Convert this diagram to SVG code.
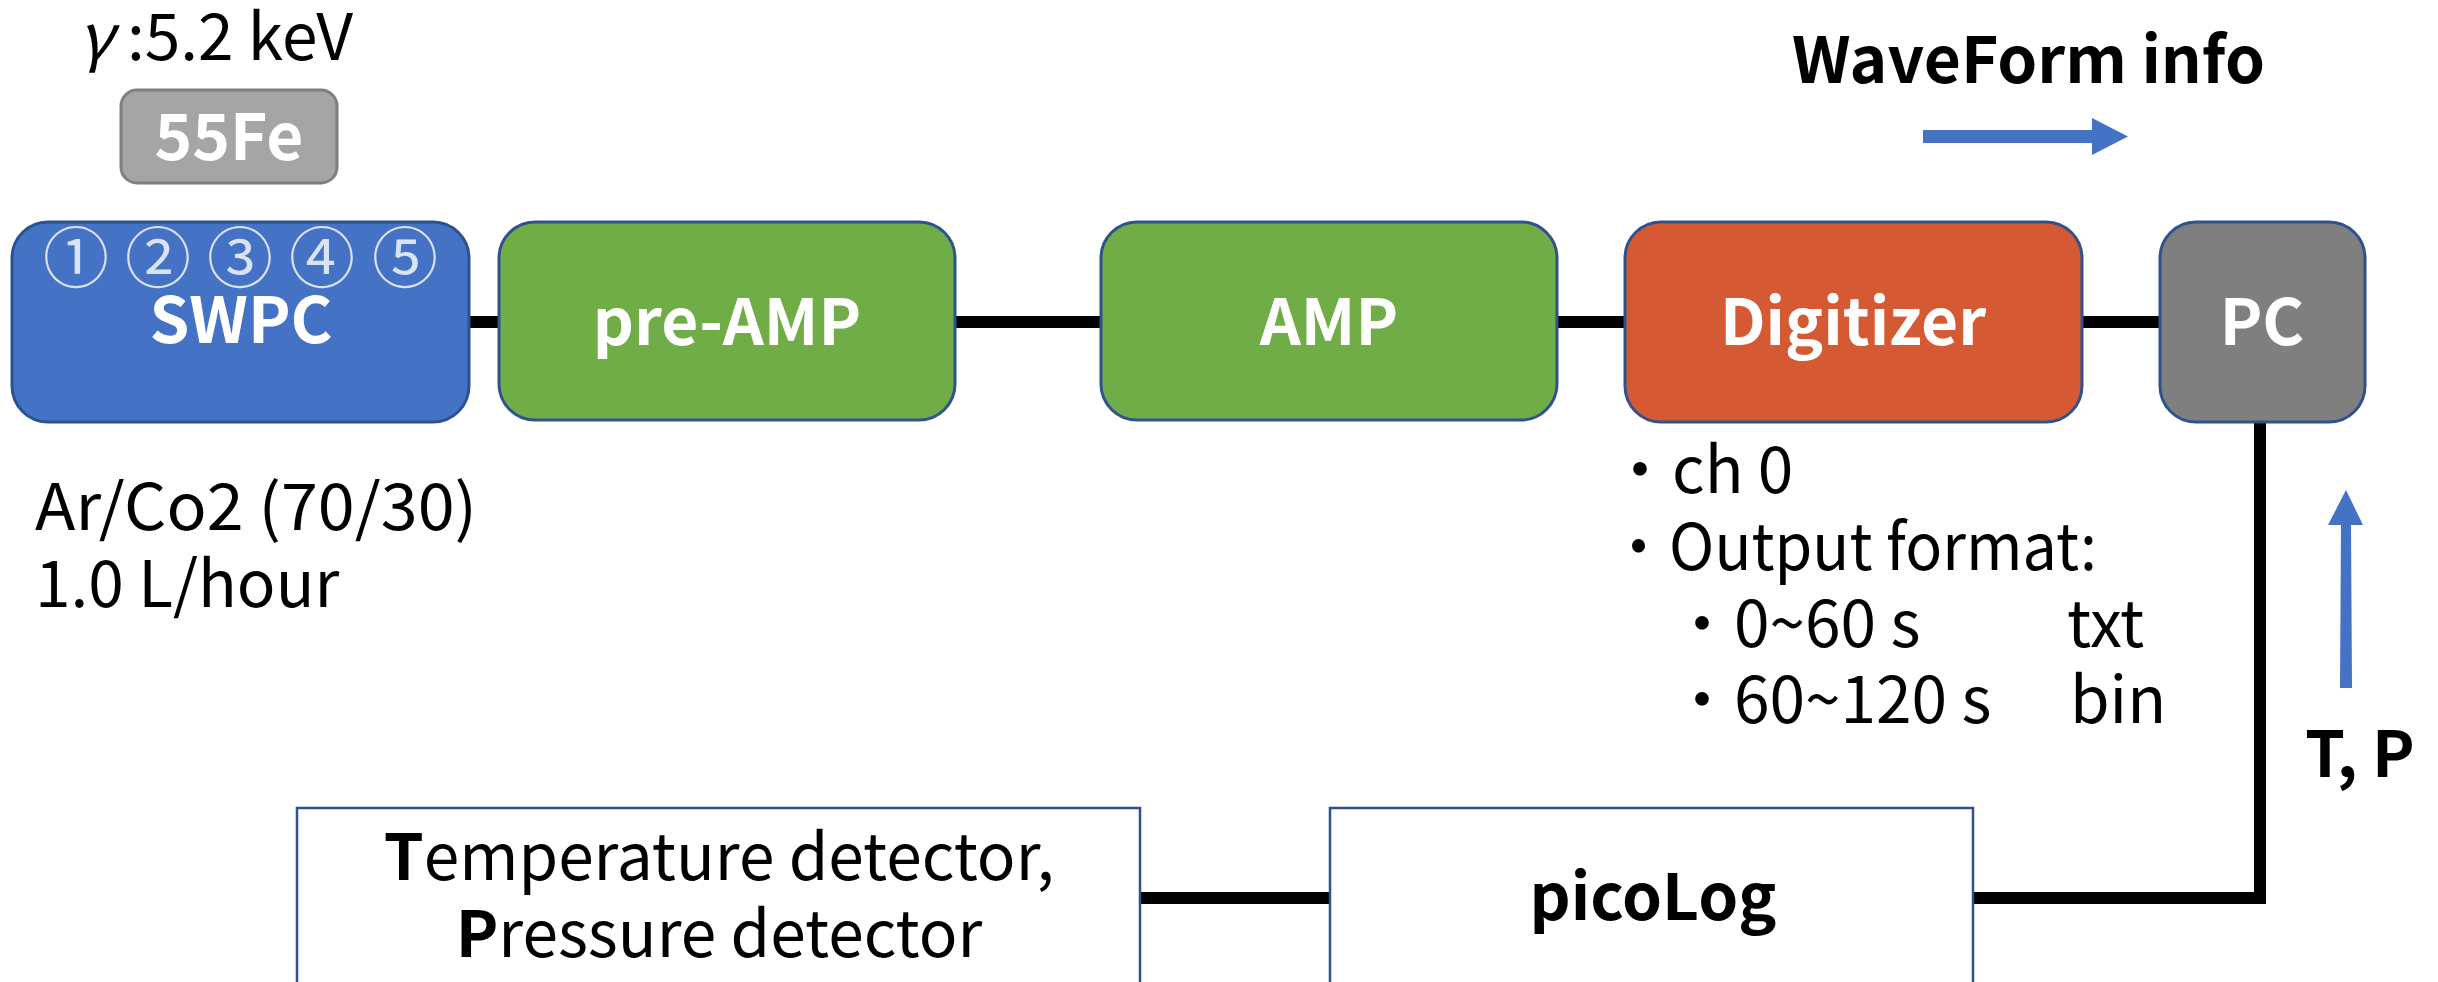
<svg xmlns="http://www.w3.org/2000/svg" width="2438" height="982" viewBox="0 0 2438 982">
<style>
text{font-family:"Noto Sans CJK JP","Noto Sans",sans-serif;fill:#000;font-size:64px}
.b{font-weight:bold}
.w{fill:#fff}
.c{text-anchor:middle}
.box{stroke:#2f528f;stroke-width:3}
.wire{stroke:#000;stroke-width:12;fill:none}
.num{fill:#dae3f3;font-size:66px}
</style>
<rect width="2438" height="982" fill="#fff"/>
<g id="connectors">
<line class="wire" x1="469" y1="322" x2="499" y2="322"/>
<line class="wire" x1="955" y1="322" x2="1101" y2="322"/>
<line class="wire" x1="1557" y1="322" x2="1625" y2="322"/>
<line class="wire" x1="2082" y1="322" x2="2160" y2="322"/>
<path class="wire" d="M2260 422 V898 H1973"/>
<line class="wire" x1="1140" y1="898" x2="1330" y2="898"/>
</g>
<g id="source">
<text x="78" y="60"><tspan font-style="italic">γ</tspan> :5.2 keV</text>
<rect x="121" y="90" width="216" height="93" rx="16" fill="#a5a5a5" stroke="#7f7f7f" stroke-width="3"/>
<text class="b w c" x="229" y="160">55Fe</text>
</g>
<g id="swpc">
<rect class="box" x="12" y="222" width="457" height="200" rx="36" fill="#4472c4"/>
<text class="num c" x="76 158 240 322 405" y="282">①②③④⑤</text>
<text class="b w c" x="241" y="343">SWPC</text>
</g>
<g id="gas">
<text x="35" y="530" textLength="442" lengthAdjust="spacingAndGlyphs">Ar/Co2 (70/30)</text>
<text x="35" y="607">1.0 L/hour</text>
</g>
<g id="preamp">
<rect class="box" x="499" y="222" width="456" height="198" rx="36" fill="#70ad47"/>
<text class="b w c" x="727" y="345">pre-AMP</text>
</g>
<g id="amp">
<rect class="box" x="1101" y="222" width="456" height="198" rx="36" fill="#70ad47"/>
<text class="b w c" x="1329" y="345">AMP</text>
</g>
<g id="digitizer">
<rect class="box" x="1625" y="222" width="457" height="200" rx="36" fill="#d55a33"/>
<text class="b w c" x="1853" y="345">Digitizer</text>
</g>
<g id="pc">
<rect class="box" x="2160" y="222" width="205" height="200" rx="36" fill="#7f7f7f"/>
<text class="b w c" x="2262" y="345">PC</text>
</g>
<g id="digitizer-notes">
<text x="1608" y="493">・ch 0</text>
<text x="1608" y="570" textLength="489" lengthAdjust="spacingAndGlyphs">・Output format:</text>
<text x="1670" y="647">・0~60 s</text>
<text x="2067" y="647">txt</text>
<text x="1670" y="723">・60~120 s</text>
<text x="2070" y="723">bin</text>
</g>
<g id="waveform">
<text class="b" x="1792" y="83">WaveForm info</text>
<polygon points="1923,130 2092,130 2092,118 2128,136.5 2092,155 2092,143 1923,143" fill="#4472c4"/>
</g>
<g id="tp">
<polygon points="2340,688 2352,688 2351,525 2363,525 2346,490 2328,525 2341,525" fill="#4472c4"/>
<text class="b" x="2305" y="777">T, P</text>
</g>
<g id="tp-detector">
<rect x="297" y="808" width="843" height="200" fill="#fff" stroke="#2f528f" stroke-width="2.5"/>
<text class="c" x="719" y="880"><tspan class="b">T</tspan>emperature detector,</text>
<text class="c" x="719" y="957"><tspan class="b">P</tspan>ressure detector</text>
</g>
<g id="picolog">
<rect x="1330" y="808" width="643" height="200" fill="#fff" stroke="#2f528f" stroke-width="2.5"/>
<text class="b c" x="1653" y="920">picoLog</text>
</g>
</svg>
